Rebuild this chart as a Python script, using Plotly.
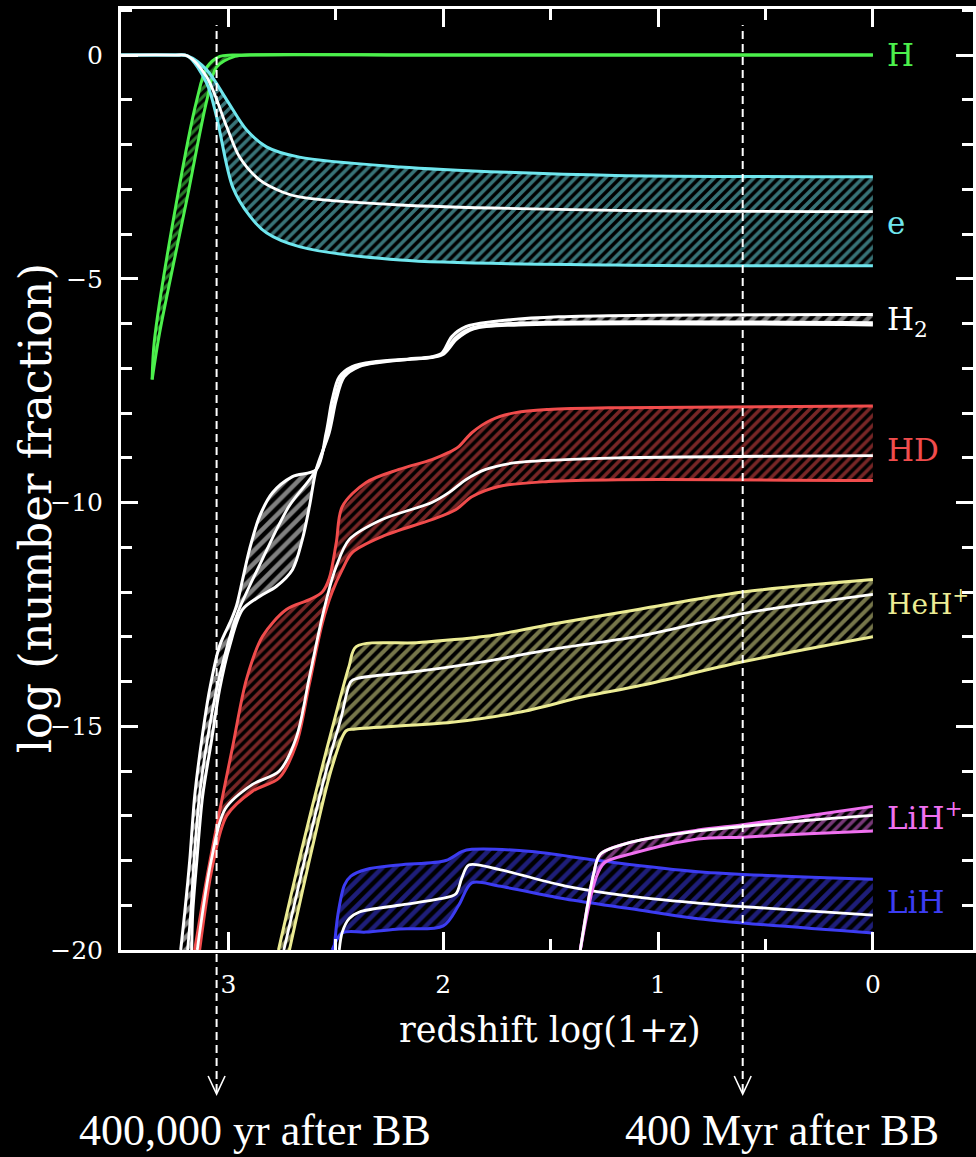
import plotly.graph_objects as go

# ---- abundance bands: log(number fraction) vs log(1+z) ----
# H
h_up_x = [3.355, 3.345, 3.24, 3.147, 3.10, 3.04, 2.98, 2.0, 0.0]
h_up_y = [-7.25, -6.4, -3.24, -1.0, -0.27, -0.03, 0.0, 0.0, 0.0]
h_lo_x = [3.355, 3.32, 3.194, 3.10, 3.055, 2.97, 2.90, 2.0, 0.0]
h_lo_y = [-7.25, -6.2, -3.24, -1.0, -0.27, -0.03, 0.0, 0.0, 0.0]

# electrons
e_up_x = [3.5, 3.25, 3.19, 3.101, 3.008, 2.916, 2.823, 2.67, 2.2, 1.7, 1.2, 0.0]
e_up_y = [0.0, 0.0, -0.02, -0.33, -1.0, -1.67, -2.05, -2.28, -2.5, -2.62, -2.69, -2.72]
e_mid_x = [3.5, 3.25, 3.19, 3.101, 3.008, 2.948, 2.855, 2.749, 2.67, 2.2, 1.2, 0.0]
e_mid_y = [0.0, 0.0, -0.02, -0.49, -1.6, -2.28, -2.79, -3.06, -3.17, -3.35, -3.47, -3.5]
e_lo_x = [3.5, 3.25, 3.19, 3.101, 3.055, 2.98, 2.90, 2.823, 2.67, 2.2, 1.2, 0.0]
e_lo_y = [0.0, 0.0, -0.02, -0.63, -1.38, -2.95, -3.6, -3.97, -4.28, -4.58, -4.69, -4.71]

# H2
h2_up_x = [3.222, 3.203, 3.18, 3.157, 3.124, 3.087, 3.041, 2.985, 2.962, 2.934, 2.902,
           2.855, 2.795, 2.702, 2.591, 2.545, 2.517, 2.484, 2.424, 2.313, 2.16, 2.053,
           2.006, 1.96, 1.895, 1.775, 1.464, 0.0]
h2_up_y = [-20.0, -19.15, -18.0, -16.56, -15.3, -14.17, -13.2, -12.6, -12.3, -11.72, -11.05,
           -10.31, -9.78, -9.42, -9.26, -8.44, -7.7, -7.19, -6.96, -6.85, -6.79, -6.74,
           -6.66, -6.29, -6.07, -5.96, -5.85, -5.8]
h2_mid_x = [3.19, 3.175, 3.16, 3.135, 3.098, 3.055, 3.005, 2.96, 2.85, 2.72, 2.591, 2.538,
            2.505, 2.47, 2.40, 2.30, 2.16, 2.053, 2.0, 1.945, 1.87, 1.7, 0.0]
h2_mid_y = [-20.0, -19.15, -18.0, -16.56, -15.3, -14.17, -13.2, -12.5, -11.35, -10.1, -9.26,
            -8.44, -7.7, -7.19, -6.96, -6.86, -6.8, -6.75, -6.67, -6.33, -6.1, -6.0, -5.98]
h2_lo_x = [3.171, 3.166, 3.147, 3.12, 3.078, 3.041, 2.994, 2.934, 2.855, 2.776, 2.702,
           2.656, 2.623, 2.591, 2.531, 2.498, 2.461, 2.391, 2.299, 2.16, 2.053, 1.997,
           1.937, 1.858, 1.65, 0.0]
h2_lo_y = [-20.0, -19.15, -18.0, -16.56, -15.3, -14.17, -13.2, -12.39, -12.1, -11.87, -11.5,
           -10.83, -10.09, -9.26, -8.44, -7.7, -7.19, -6.96, -6.87, -6.8, -6.76, -6.68,
           -6.35, -6.12, -6.03, -6.03]

# HD
hd_up_x = [3.157, 3.101, 3.041, 2.98, 2.916, 2.841, 2.73, 2.623, 2.563, 2.531, 2.498, 2.47,
           2.359, 2.206, 2.053, 1.974, 1.928, 1.867, 1.775, 1.663, 1.51, 1.186, 0.0]
hd_up_y = [-20.0, -18.4, -16.9, -15.45, -13.95, -12.99, -12.39, -12.17, -12.0, -11.7, -10.9,
           -10.09, -9.55, -9.26, -9.04, -8.88, -8.75, -8.44, -8.15, -7.99, -7.92, -7.88, -7.84]
hd_mid_x = [3.145, 3.08, 3.015, 2.888, 2.763, 2.684, 2.623, 2.563, 2.517, 2.498, 2.438,
            2.285, 2.053, 1.974, 1.895, 1.802, 1.663, 1.431, 1.186, 0.0]
hd_mid_y = [-20.0, -18.0, -16.85, -16.3, -16.0, -15.25, -13.9, -12.55, -11.7, -11.43, -10.83,
            -10.38, -10.0, -9.78, -9.49, -9.26, -9.11, -9.04, -9.0, -8.95]
hd_lo_x = [3.134, 3.073, 3.008, 2.888, 2.763, 2.684, 2.623, 2.563, 2.517, 2.47, 2.424,
           2.285, 2.053, 1.942, 1.867, 1.742, 1.51, 1.186, 0.0]
hd_lo_y = [-20.0, -18.1, -17.0, -16.45, -16.15, -15.4, -14.05, -12.7, -12.0, -11.5, -11.12,
           -10.76, -10.38, -10.16, -9.87, -9.64, -9.53, -9.49, -9.51]

# HeH+
heh_up_x = [2.767, 2.656, 2.563, 2.498, 2.438, 2.405, 2.113, 1.802, 1.496, 1.093, 0.606, 0.0]
heh_up_y = [-20.0, -17.7, -15.9, -14.7, -13.65, -13.22, -13.13, -12.99, -12.72, -12.39, -12.0, -11.72]
heh_mid_x = [2.742, 2.632, 2.54, 2.475, 2.43, 2.40, 2.113, 1.802, 1.496, 1.093, 0.606, 0.0]
heh_mid_y = [-20.0, -17.7, -15.9, -14.8, -14.0, -13.93, -13.77, -13.55, -13.28, -12.99, -12.48, -12.05]
heh_lo_x = [2.716, 2.609, 2.517, 2.452, 2.41, 1.96, 1.649, 1.339, 1.093, 0.606, 0.0]
heh_lo_y = [-20.0, -17.7, -15.9, -15.1, -15.06, -14.91, -14.69, -14.33, -14.1, -13.56, -13.0]

# LiH+
lihp_up_x = [1.362, 1.30, 1.269, 1.125, 0.814, 0.606, 0.3, 0.0]
lihp_up_y = [-20.0, -18.3, -17.86, -17.59, -17.32, -17.2, -17.0, -16.79]
lihp_mid_x = [1.362, 1.30, 1.269, 1.125, 0.814, 0.606, 0.3, 0.0]
lihp_mid_y = [-20.0, -18.3, -17.86, -17.59, -17.34, -17.24, -17.1, -16.99]
lihp_lo_x = [1.362, 1.29, 1.25, 1.125, 0.814, 0.606, 0.3, 0.0]
lihp_lo_y = [-20.0, -18.4, -18.05, -17.85, -17.52, -17.48, -17.4, -17.34]

# LiH
lih_up_x = [2.508, 2.49, 2.46, 2.43, 2.359, 2.206, 1.988, 1.914, 1.867, 1.589, 1.278, 0.814, 0.0]
lih_up_y = [-20.0, -19.2, -18.55, -18.35, -18.2, -18.1, -18.0, -17.8, -17.75, -17.8, -18.0, -18.25, -18.42]
lih_mid_x = [2.484, 2.47, 2.438, 2.39, 2.206, 2.02, 1.942, 1.914, 1.881, 1.742, 1.431, 1.125,
             0.814, 0.606, 0.0]
lih_mid_y = [-20.0, -19.6, -19.3, -19.15, -19.0, -18.86, -18.75, -18.4, -18.1, -18.2, -18.57,
             -18.8, -18.95, -19.03, -19.22]
lih_lo_x = [2.517, 2.47, 2.36, 2.206, 2.0, 1.928, 1.867, 1.742, 1.431, 1.125, 0.814, 0.0]
lih_lo_y = [-20.0, -19.62, -19.6, -19.53, -19.46, -19.0, -18.5, -18.57, -18.86, -19.08, -19.3, -19.62]

# epochs marked below the axis
epoch_x = [3.055, 0.606]
epoch_text = ["400,000 yr after BB", "400 Myr after BB"]

# species labels
label_text = ["H", "e", "H<sub>2</sub>", "HD", "HeH<sup>+</sup>", "LiH<sup>+</sup>", "LiH"]
label_y = [0.0, -3.75, -5.95, -8.82, -12.23, -17.0, -18.93]
label_size = [31, 31, 31, 31, 28, 31, 31]

X_RANGE = [3.5, -0.466]
Y_RANGE = [-20.0, 1.03]

W, H = 976, 1157
M_L, M_R, M_T, M_B = 121, 0, 9, 207
PW, PH = W - M_L - M_R, H - M_T - M_B

species = [
    # (upper, center, lower, edge colour, hatch size)
    ((h_up_x, h_up_y), None, (h_lo_x, h_lo_y), "#4cf04c", 6),
    ((e_up_x, e_up_y), (e_mid_x, e_mid_y), (e_lo_x, e_lo_y), "#6fe6ee", 7),
    ((h2_up_x, h2_up_y), (h2_mid_x, h2_mid_y), (h2_lo_x, h2_lo_y), "#ffffff", 9),
    ((hd_up_x, hd_up_y), (hd_mid_x, hd_mid_y), (hd_lo_x, hd_lo_y), "#f04c4c", 7),
    ((heh_up_x, heh_up_y), (heh_mid_x, heh_mid_y), (heh_lo_x, heh_lo_y), "#ecec94", 8),
    ((lih_up_x, lih_up_y), (lih_mid_x, lih_mid_y), (lih_lo_x, lih_lo_y), "#3c3cf2", 9),
    ((lihp_up_x, lihp_up_y), (lihp_mid_x, lihp_mid_y), (lihp_lo_x, lihp_lo_y), "#f070f0", 7),
]
label_colors = ["#4cf04c", "#6fe6ee", "#ffffff", "#f04c4c", "#ecec94", "#f070f0", "#3c3cf2"]

fig = go.Figure()
LINE = dict(shape="spline", smoothing=0.9)

for up, mid, lo, col, hs in species:
    # lower edge first, then the upper edge filled down to it with a hatch
    fig.add_trace(go.Scatter(x=lo[0], y=lo[1], mode="lines",
                             line=dict(color=col, width=3, **LINE),
                             hoverinfo="skip", showlegend=False))
    fig.add_trace(go.Scatter(
        x=up[0], y=up[1], mode="lines", fill="tonexty",
        fillcolor="rgba(0,0,0,0)",
        fillpattern=dict(shape="/", fgcolor=col, bgcolor="rgba(0,0,0,0)",
                         size=hs, solidity=0.5),
        line=dict(color=col, width=3, **LINE), hoverinfo="skip", showlegend=False))
    if mid is not None:
        fig.add_trace(go.Scatter(x=mid[0], y=mid[1], mode="lines",
                                 line=dict(color="#ffffff", width=2.8, **LINE),
                                 hoverinfo="skip", showlegend=False))

SERIF = "DejaVu Serif"

annotations = []
for txt, yv, col, fs in zip(label_text, label_y, label_colors, label_size):
    annotations.append(dict(x=-0.055, y=yv, xref="x", yref="y", text=txt, showarrow=False,
                            xanchor="left", yanchor="middle",
                            font=dict(family=SERIF, size=fs, color=col)))


def xpaper(xv):
    return (X_RANGE[0] - xv) / (X_RANGE[0] - X_RANGE[1])


def ypix(pyv):
    return (H - M_B - pyv) / PH


annotations.append(dict(x=(552 - M_L) / PW, y=ypix(1030), xref="paper", yref="paper",
                        text="redshift log(1+z)", showarrow=False, xanchor="center",
                        yanchor="middle", font=dict(family=SERIF, size=35, color="white")))
annotations.append(dict(x=(35 - M_L) / PW, y=ypix(508), xref="paper", yref="paper",
                        text="log (number fraction)", showarrow=False, textangle=-90,
                        xanchor="center", yanchor="middle",
                        font=dict(family=SERIF, size=45, color="white")))

shapes = []
for xv, txt in zip(epoch_x, epoch_text):
    xp = xpaper(xv)
    # caption sits a little to the right of its arrow
    annotations.append(dict(x=xp + 39 / PW, y=ypix(1130), xref="paper", yref="paper", text=txt,
                            showarrow=False, xanchor="center", yanchor="middle",
                            font=dict(family="Liberation Serif", size=44, color="white")))
    shapes.append(dict(type="line", xref="paper", yref="paper", x0=xp, x1=xp,
                       y0=ypix(1092), y1=ypix(25), layer="above",
                       line=dict(color="white", width=2, dash="8px,5px")))
    dx = 8.5 / PW
    shapes.append(dict(type="path", xref="paper", yref="paper", layer="above",
                       path=f"M {xp - dx},{ypix(1076)} L {xp},{ypix(1094)} L {xp + dx},{ypix(1076)}",
                       line=dict(color="white", width=1.6)))

axis_common = dict(showline=True, linecolor="white", linewidth=3, mirror="allticks",
                   ticks="inside", tickcolor="white", tickwidth=2.5, showgrid=False,
                   zeroline=False, tickfont=dict(family=SERIF, size=25, color="white"),
                   ticklabelstandoff=10)

fig.update_layout(
    width=W, height=H, margin=dict(l=M_L, r=M_R, t=M_T, b=M_B),
    paper_bgcolor="black", plot_bgcolor="black", showlegend=False,
    xaxis=dict(range=X_RANGE, dtick=1, tick0=0, ticklen=18,
               minor=dict(dtick=0.5, tick0=0, ticklen=11, tickwidth=2.5,
                          tickcolor="white", ticks="inside", showgrid=False),
               **axis_common),
    yaxis=dict(range=Y_RANGE, dtick=5, tick0=0, ticklen=17,
               minor=dict(dtick=1, tick0=0, ticklen=11, tickwidth=2.5,
                          tickcolor="white", ticks="inside", showgrid=False),
               **axis_common),
    annotations=annotations, shapes=shapes,
)

fig.write_html("out.html", config={"displayModeBar": False})
